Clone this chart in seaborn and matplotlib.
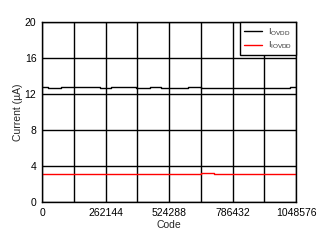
import matplotlib
matplotlib.use("Agg")
import matplotlib.pyplot as plt
import seaborn as sns
import pandas as pd

# Data (step-wise readings)
ovdd_code = [0, 24800, 77160, 238400, 286600, 389900, 445000, 493300, 603500, 655900, 1023800, 1048576]
ovdd_current = [12.8, 12.65, 12.8, 12.65, 12.8, 12.65, 12.8, 12.65, 12.8, 12.68, 12.8, 12.8]
iovdd_code = [0, 655900, 711000, 1048576]
iovdd_current = [3.07, 3.18, 3.07, 3.07]
x_ticks = [0, 262144, 524288, 786432, 1048576]
x_tick_labels = ["0", "262144", "524288", "786432", "1048576"]
y_ticks = [0, 4, 8, 12, 16, 20]
labels = [r"I$_{\mathrm{OVDD}}$", r"I$_{\mathrm{IOVDD}}$"]

sns.set_style("white")
plt.rcParams['font.family'] = ['Liberation Sans', 'DejaVu Sans']
plt.rcParams['mathtext.fontset'] = 'custom'
plt.rcParams['mathtext.rm'] = 'Liberation Sans'
plt.rcParams['mathtext.it'] = 'Liberation Sans'

fig = plt.figure(figsize=(3.28, 2.43), dpi=100)
ax = fig.add_axes([42 / 328, 41 / 243, 254 / 328, 180 / 243])

df1 = pd.DataFrame({"Code": ovdd_code, "Current": ovdd_current})
df2 = pd.DataFrame({"Code": iovdd_code, "Current": iovdd_current})
sns.lineplot(data=df1, x="Code", y="Current", ax=ax, color="black", lw=1.0,
             drawstyle="steps-post", label=labels[0])
sns.lineplot(data=df2, x="Code", y="Current", ax=ax, color="red", lw=1.0,
             drawstyle="steps-post", label=labels[1])

ax.set_xlim(0, 1048576)
ax.set_ylim(0, 20)
ax.set_xticks(x_ticks)
ax.set_xticklabels(x_tick_labels)
ax.set_xticks([131072 * i for i in range(9)], minor=True)
ax.set_yticks(y_ticks)
ax.set_yticklabels([str(v) for v in y_ticks])
ax.grid(True, which="both", axis="x", color="black", lw=1.0)
ax.grid(True, which="major", axis="y", color="black", lw=1.0)
ax.set_axisbelow(True)
ax.tick_params(axis="both", which="both", length=0, labelsize=7.5, pad=4, colors="black")
for s in ax.spines.values():
    s.set_color("black")
    s.set_linewidth(1.0)
ax.set_xlabel("Code", fontsize=7.5, labelpad=2)
ax.set_ylabel("Current (µA)", fontsize=7.5, labelpad=1)

leg = ax.legend(loc="upper right", fontsize=6.5, frameon=True, fancybox=False,
                borderaxespad=0, handlelength=2.0, borderpad=0.45, labelspacing=0.25,
                handletextpad=0.6)
leg.get_frame().set_edgecolor("black")
leg.get_frame().set_linewidth(1.0)
leg.get_frame().set_alpha(1)
for t in leg.get_texts():
    t.set_color("#333333")

fig.savefig("out.png", dpi=100)
